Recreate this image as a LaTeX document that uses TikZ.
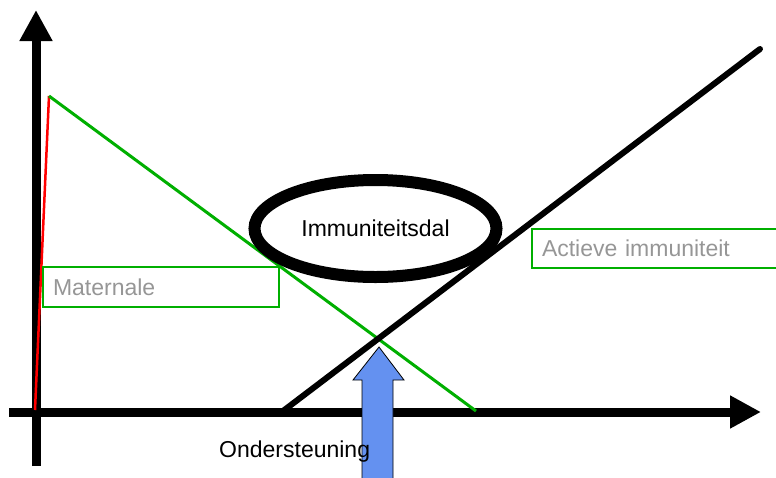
\documentclass[tikz,border=0pt]{standalone}
\usepackage{fontspec}
\setmainfont{Liberation Sans}
\usetikzlibrary{arrows.meta,shapes.geometric}

\definecolor{linegreen}{RGB}{0,175,0}
\definecolor{labelgray}{RGB}{150,150,150}
\definecolor{helpblue}{RGB}{100,145,240}

\tikzset{
  axis/.style={line width=9pt, -{Triangle[length=31pt,width=31pt]}},
  lbl/.style={font=\fontsize{23}{26}\selectfont, inner sep=0pt},
  greenbox/.style={draw=linegreen, line width=2pt, minimum height=40pt,
    inner xsep=10pt, inner ysep=0pt, align=left, anchor=north west,
    font=\fontsize{23}{26}\selectfont, text=labelgray},
}

\begin{document}
\begin{tikzpicture}[x=1pt,y=-1pt]
\useasboundingbox (0,0) rectangle (776,477);

% axes
\coordinate (ybot) at (36,466);
\coordinate (ytop) at (36,10);
\coordinate (xleft) at (9,412);
\coordinate (xright) at (761,412);
\draw[axis] (ybot) -- (ytop);
\draw[axis] (xleft) -- (xright);

% maternal curve
\coordinate (mstart) at (35,410);
\coordinate (mpeak) at (49,96);
\coordinate (mend) at (476,411);
\draw[red, line width=2.5pt] (mstart) -- (mpeak);
\draw[linegreen, line width=3pt] (mpeak) -- (mend);

% active curve
\coordinate (astart) at (283,411);
\coordinate (aend) at (760,49);
\draw[line width=6pt, line cap=round] (astart) -- (aend);

% labels in boxes
\node[greenbox, text width=216pt] (maternale) at (42,266) {Maternale};
\node[ellipse, draw, fill=white, line width=12pt, minimum width=242pt,
  minimum height=97pt, inner sep=0pt, lbl] (dal) at (375.5,228.5) {Immuniteitsdal};
\node[greenbox, text width=245pt, minimum height=39pt] (actief) at (531,228) {Actieve immuniteit};

% support arrow
\filldraw[fill=helpblue, draw=black, line width=0.8pt]
  (379,347) -- (404,380) -- (393,380) -- (393,482) -- (362,482)
  -- (362,380) -- (353,380) -- cycle;
\node[lbl, anchor=west] (steun) at (219,452) {Ondersteuning};

\end{tikzpicture}
\end{document}
